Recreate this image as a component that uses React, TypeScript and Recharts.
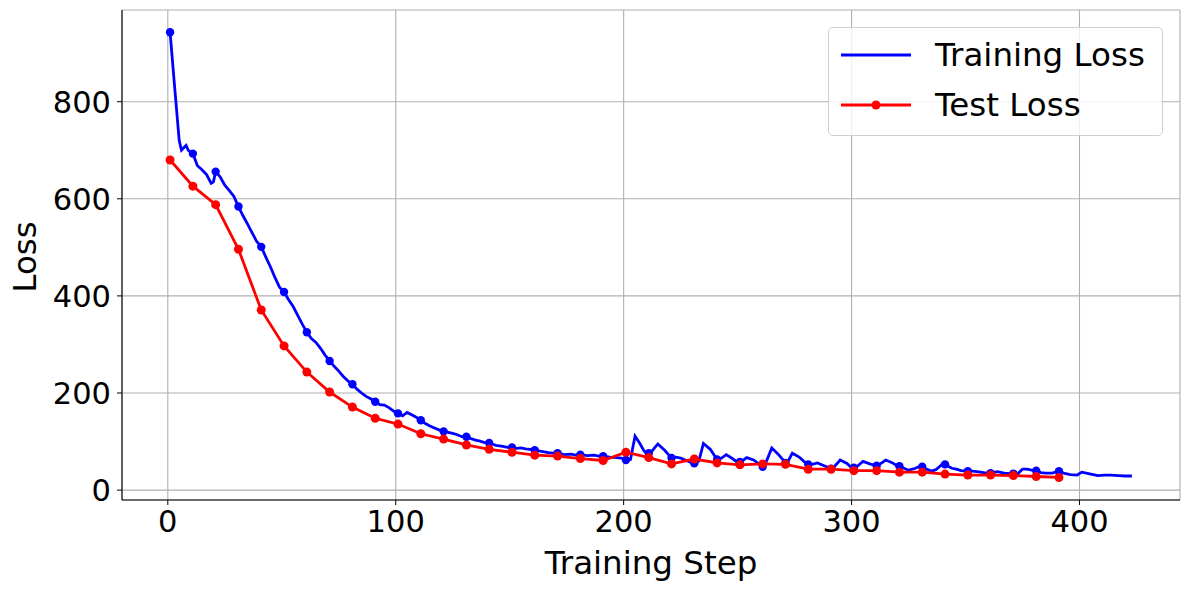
import React from 'react';
import {LineChart,Line,XAxis,YAxis,CartesianGrid} from 'recharts';

// training loss, logged at irregular steps
const trainSteps=[1,3,5,6,7,8,9,11,13,15,17,19,20,21,23,25,27,29,31,33,35,37,39,41,43,45,47,49,51,53,55,57,59,61,63,65,67,69,71,73,75,77,79,81,83,85,87,89,91,93,95,97,99,101,103,105,107,109,111,113,115,117,119,121,123,125,127,129,131,133,135,137,139,141,144,147,149,151,153,155,157,159,161,164,167,169,171,174,177,179,181,184,187,189,191,194,197,199,201,203,205,207,209,211,212,215,218,221,223,225,227,229,231,233,235,238,241,243,245,248,250,251,252,254,257,259,261,262,265,268,271,272,274,277,280,281,282,285,288,291,292,295,298,300,301,302,305,308,311,312,315,318,320,321,323,325,328,330,331,332,335,337,340,341,342,344,346,348,351,353,355,358,360,361,362,364,367,370,371,373,375,377,379,381,383,385,388,391,393,396,399,401,404,408,411,414,417,420,423];
const trainLoss=[943,830,720,700,705,710,700,693,668,660,650,632,635,656,645,628,617,605,584,565,548,530,512,501,480,460,438,418,408,392,378,360,342,325,312,304,292,278,266,255,245,234,225,218,208,200,193,188,182,176,175,170,163,158,153,160,155,150,144,137,132,128,124,121,119,117,114,110,110,106,103,101,98,97,92,90,88,88,86,87,85,84,82,80,77,76,76,73,74,72,73,71,72,70,70,68,67,66,62,63,111,97,80,76,78,95,82,66,68,66,62,58,55,60,96,84,63,66,73,64,57,58,60,67,62,55,48,52,87,73,56,58,76,68,55,53,52,56,50,44,46,62,55,46,46,47,59,54,50,52,62,56,50,49,45,41,45,49,48,45,39,42,54,53,50,45,43,40,39,39,38,36,35,35,36,38,35,34,34,34,43,43,41,40,36,35,35,39,35,32,31,37,34,30,31,31,30,29,29];

// test loss, evaluated every 10 steps
const testSteps=[1,11,21,31,41,51,61,71,81,91,101,111,121,131,141,151,161,171,181,191,201,211,221,231,241,251,261,271,281,291,301,311,321,331,341,351,361,371,381,391];
const testLoss=[680,626,588,496,371,297,243,202,171,148,136,116,105,93,84,78,72,70,65,61,78,67,54,64,56,52,54,53,43,43,40,40,37,37,33,31,31,30,28,26];

const xTicks=[0,100,200,300,400];
const yTicks=[0,200,400,600,800];

const trainData=trainSteps.map((s,i)=>({step:s,loss:trainLoss[i]}));
const testData=testSteps.map((s,i)=>({step:s,loss:testLoss[i]}));

const font='"DejaVu Sans", sans-serif';
const BLUE='#0000ff';
const RED='#ff0000';

// blue markers only at the eval steps
const trainDot=(p:any)=>testSteps.includes(p.payload.step)
  ?<circle key={p.index} cx={p.cx} cy={p.cy} r={4.2} fill={BLUE}/>
  :<g key={p.index}/>;

const App:React.FC=()=>{
  const tick={fontSize:30.5,fill:'#000',fontFamily:font};
  return(
    <div style={{position:'absolute',left:0,top:0,width:1189,height:590,background:'#fff'}}>
      <LineChart width={1189} height={590} margin={{top:10,right:9,left:0,bottom:0}}>
        <CartesianGrid stroke="#b0b0b0" strokeWidth={1.1}/>
        <XAxis xAxisId={0} dataKey="step" type="number" domain={[-20.1,444.1]} ticks={xTicks} allowDataOverflow
          height={90} tick={tick} tickSize={5} tickMargin={5} stroke="#000" tickLine={{stroke:'#000'}} axisLine={{stroke:'#000',strokeWidth:1.1}}
          label={{content:()=><text x={651} y={574} textAnchor="middle" fontSize={32.5} fontFamily={font} fill="#000">Training Step</text>}}/>
        <XAxis xAxisId="top" orientation="top" type="number" domain={[-20.1,444.1]} height={0} tick={false} tickLine={false} axisLine={{stroke:'#000',strokeWidth:1.1}}/>
        <YAxis yAxisId={0} type="number" domain={[-20.4,988.9]} ticks={yTicks} allowDataOverflow
          width={122} tick={tick} tickSize={5} tickMargin={6} tickLine={{stroke:'#000'}} axisLine={{stroke:'#000',strokeWidth:1.1}}
          label={{content:()=><text x={36} y={257} transform="rotate(-90 36 257)" textAnchor="middle" fontSize={32.5} fontFamily={font} fill="#000">Loss</text>}}/>
        <YAxis yAxisId="right" orientation="right" type="number" domain={[-20.4,988.9]} width={0} tick={false} tickLine={false} axisLine={{stroke:'#000',strokeWidth:1.1}}/>
        <Line data={trainData} dataKey="loss" type="linear" stroke={BLUE} strokeWidth={2.8} dot={trainDot} activeDot={false} isAnimationActive={false}/>
        <Line data={testData} dataKey="loss" type="linear" stroke={RED} strokeWidth={2.8} dot={{r:4.5,fill:RED,stroke:RED,strokeWidth:0}} activeDot={false} isAnimationActive={false}/>
      </LineChart>
      {/* legend, upper right like matplotlib */}
      <div style={{position:'absolute',left:828,top:27,width:333,height:107,border:'1px solid #d0d0d0',borderRadius:5,background:'rgba(255,255,255,0.8)',fontFamily:font,fontSize:32.5,color:'#000'}}>
        {[{name:'Training Loss',c:BLUE,m:false},{name:'Test Loss',c:RED,m:true}].map((e,i)=>(
          <div key={i} style={{position:'absolute',left:0,top:i===0?7:57,height:40,display:'flex',alignItems:'center'}}>
            <svg width={95} height={40} style={{display:'block'}}>
              <line x1={12} y1={20} x2={82} y2={20} stroke={e.c} strokeWidth={2.8}/>
              {e.m&&<circle cx={47} cy={20} r={4.5} fill={e.c}/>}
            </svg>
            <span style={{marginLeft:11,lineHeight:'40px',whiteSpace:'nowrap'}}>{e.name}</span>
          </div>
        ))}
      </div>
    </div>
  );
};
export default App;
